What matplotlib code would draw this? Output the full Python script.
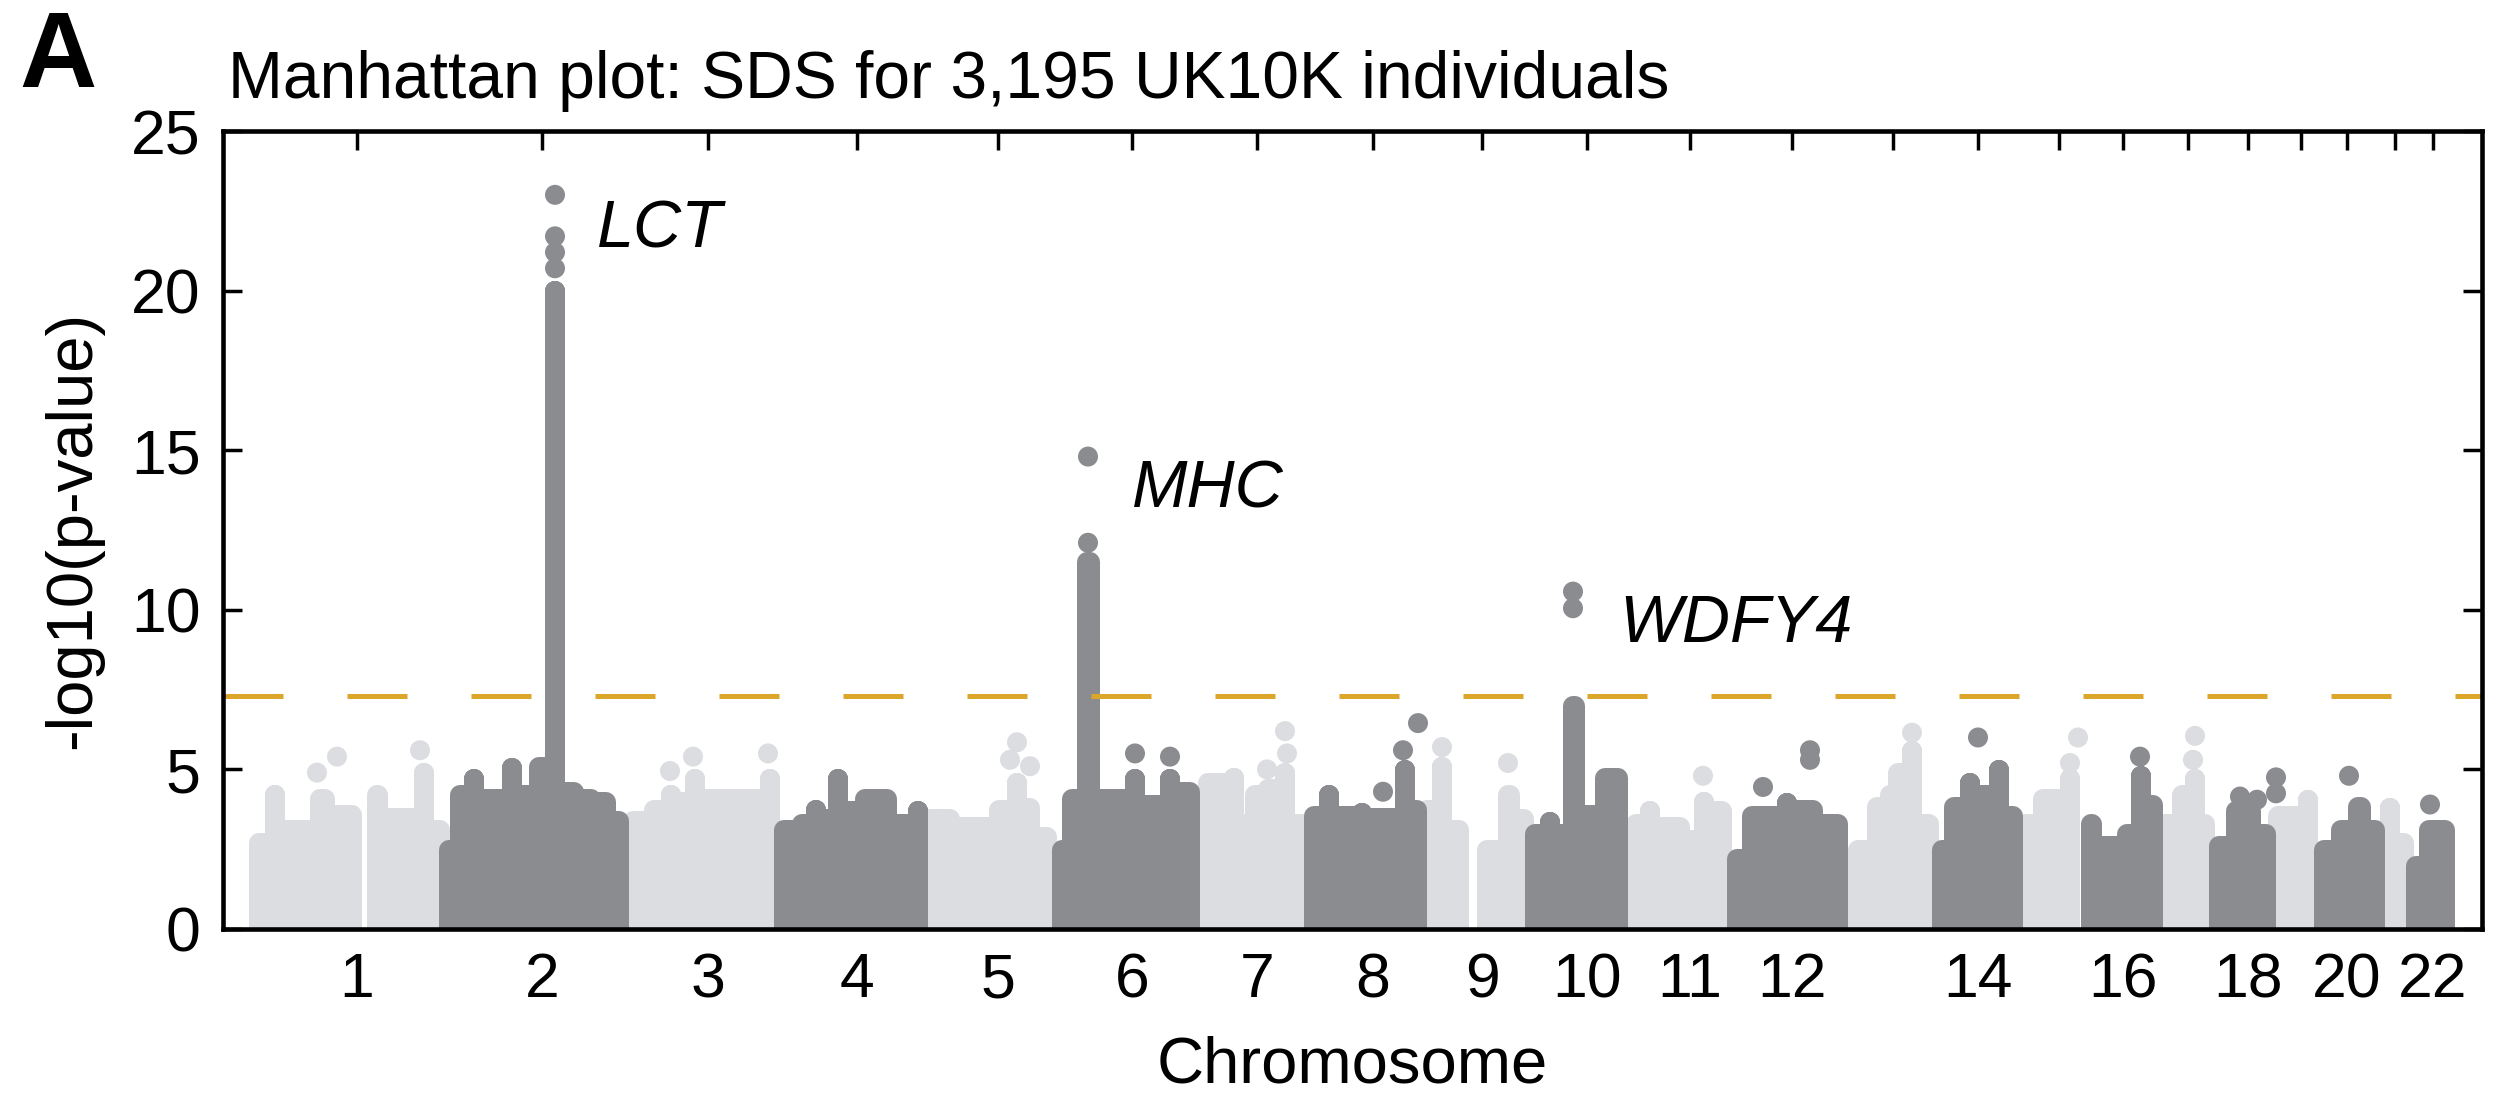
import numpy as np
import matplotlib.pyplot as plt

plt.rcParams['font.family'] = ['Liberation Sans', 'DejaVu Sans']

# x axis: cumulative genome position (arbitrary units), one tick per chromosome
tick_pos = [134, 319, 485, 634, 775, 909, 1034, 1150, 1259, 1364, 1467,
            1569, 1670, 1755, 1836, 1900, 1965, 2025, 2078, 2124, 2172, 2210]
tick_labels = ['1', '2', '3', '4', '5', '6', '7', '8', '9', '10', '11',
               '12', '', '14', '', '16', '', '18', '', '20', '', '22']
chrom_end = [225, 402, 551, 700, 834, 977, 1085, 1197, 1304, 1405, 1509,
             1625, 1714, 1795, 1857, 1933, 1987, 2047, 2092, 2155, 2189, 2232]

# upper envelope of each chromosome's point cloud: block start positions and
# the -log10(p) reached inside each block (0 = no SNPs, e.g. centromere)
env_start = [
    [29, 42, 62, 87, 112, 139, 144, 165, 192, 209],
    [219, 232, 242, 259, 279, 299, 309, 322, 342, 359, 377, 389],
    [400, 422, 439, 457, 467, 477, 542],
    [551, 570, 588, 597, 605, 624, 632, 674, 690],
    [697, 737, 767, 785, 802, 812],
    [834, 844, 854, 877, 904, 920, 942, 952],
    [975, 1004, 1017, 1027, 1037, 1052, 1072],
    [1085, 1097, 1114, 1130, 1147, 1173, 1190],
    [1197, 1210, 1227, 1244, 1254, 1275, 1297],
    [1304, 1320, 1334, 1340, 1362, 1372],
    [1405, 1420, 1434, 1467, 1474, 1487],
    [1509, 1519, 1557, 1570, 1600],
    [1625, 1644, 1664, 1670, 1680, 1697],
    [1714, 1724, 1737, 1757, 1767, 1784],
    [1795, 1810, 1837],
    [1858, 1879, 1899, 1909, 1926],
    [1927, 1950, 1967, 1977],
    [1988, 2003, 2038],
    [2045, 2077],
    [2092, 2110, 2125, 2148],
    [2155, 2162, 2172],
    [2189, 2196],
]
env_height = [
    [3.0, 4.5, 3.4, 4.4, 3.9, 0, 4.5, 3.8, 5.2, 3.4],
    [2.8, 4.5, 5.0, 4.4, 5.35, 4.5, 5.4, 20.3, 4.6, 4.4, 4.3, 3.7],
    [3.7, 4.05, 4.5, 4.3, 5.0, 4.4, 5.0],
    [3.4, 3.6, 4.05, 3.75, 5.0, 4.0, 4.4, 3.6, 4.0],
    [3.75, 3.5, 4.05, 4.9, 4.1, 3.2],
    [2.8, 4.4, 11.8, 4.4, 5.0, 4.2, 5.0, 4.6],
    [4.9, 5.05, 3.6, 4.5, 4.7, 5.2, 3.6],
    [3.85, 4.5, 3.85, 3.95, 3.8, 5.3, 4.05],
    [4.05, 5.4, 3.4, 0, 2.8, 4.5, 3.75],
    [3.3, 3.65, 3.3, 7.3, 3.9, 5.05],
    [3.6, 4.0, 3.5, 3.1, 4.3, 4.0],
    [2.5, 3.85, 4.25, 4.05, 3.6],
    [2.8, 4.15, 4.5, 5.2, 5.9, 3.6],
    [2.8, 4.15, 4.9, 4.5, 5.3, 3.85],
    [3.6, 4.4, 5.0],
    [3.6, 2.9, 3.3, 5.1, 4.2],
    [3.6, 4.5, 5.0, 3.6],
    [2.9, 4.0, 3.3],
    [3.85, 4.35],
    [2.8, 3.4, 4.15, 3.4],
    [3.4, 4.1, 3.0],
    [2.3, 3.4],
]

# single SNPs standing clear of the clouds (chromosome, position, -log10 p)
dot_chrom = [1, 1, 1, 2, 2, 2, 2, 3, 3, 3, 5, 5, 5, 6, 6, 6, 6, 7, 7, 7,
             8, 8, 8, 9, 9, 10, 10, 11, 12, 12, 12, 13, 14, 15, 15, 16, 17, 17,
             18, 18, 18, 18, 20, 22]
dot_x = [94, 114, 197, 332, 332, 332, 332, 447, 470, 545, 794, 787, 807,
         865, 865, 912, 947, 1044, 1064, 1062, 1160, 1180, 1195, 1219, 1285,
         1350, 1350, 1480, 1540, 1587, 1587, 1689, 1755, 1847, 1855, 1917,
         1972, 1970, 2017, 2034, 2053, 2053, 2126, 2207]
dot_y = [4.9, 5.4, 5.6, 23.0, 21.7, 21.2, 20.7, 4.95, 5.4, 5.5, 5.85, 5.3,
         5.1, 14.8, 12.1, 5.5, 5.4, 5.0, 5.5, 6.2, 4.3, 5.6, 6.45, 5.7, 5.2,
         10.57, 10.05, 4.8, 4.45, 5.6, 5.3, 6.15, 6.0, 5.2, 6.0, 5.4, 6.05,
         5.3, 4.15, 4.05, 4.75, 4.25, 4.8, 3.9]

genes = ['LCT', 'MHC', 'WDFY4']
gene_x = [374, 909, 1396]
gene_y = [21.35, 13.2, 9.0]

threshold = 7.3  # genome-wide significance, p = 5e-8

light = '#dcdde0'
dark = '#8b8c90'
gold = '#dca62a'

W, H = 2501, 1099
fig = plt.figure(figsize=(W / 100, H / 100), dpi=100)
ax = fig.add_axes([223 / W, 1 - 929 / H, 2259 / W, 798 / H])
ax.set_xlim(0, 2259)
ax.set_ylim(0, 25)

# dot radius (10 px) in data units, used to round off the cloud tops
dot_px = 20
rx = dot_px / 2 * 2259 / 2259
ry = dot_px / 2 * 25 / 798
dot_pt = dot_px * 72 / 100


def cloud_polygons(starts, heights, end):
    # split at empty blocks, shrink every block by the dot radius
    edges = list(starts) + [end]
    groups, cur = [], []
    for i, h in enumerate(heights):
        a, b = edges[i], edges[i + 1]
        if h <= 0:
            if cur:
                groups.append(cur)
            cur = []
            continue
        lo, hi = a + rx, b - rx
        if hi < lo:
            lo = hi = (a + b) / 2
        cur.append((lo, hi, h - ry))
    if cur:
        groups.append(cur)

    out = []
    for blocks in groups:
        xs, ys = [blocks[0][0]], [-1]
        for j, (lo, hi, top) in enumerate(blocks):
            if j > 0:
                plo, phi, ptop = blocks[j - 1]
                # step with vertical sides kept at the taller block
                if top > ptop:
                    xs.append(lo)
                    ys.append(ptop)
                else:
                    xs.append(phi)
                    ys.append(top)
            xs += [lo, hi]
            ys += [top, top]
        xs.append(blocks[-1][1])
        ys.append(-1)
        out.append((xs, ys))
    return out


# light (odd) chromosomes first, dark (even) ones drawn over them
for parity, color, z in [(1, light, 2), (0, dark, 3)]:
    for c in range(22):
        if (c + 1) % 2 != parity:
            continue
        for px, py in cloud_polygons(env_start[c], env_height[c], chrom_end[c]):
            ax.fill(px, py, fc=color, ec=color, lw=dot_pt, joinstyle='round', zorder=z)
        sel = [i for i, ch in enumerate(dot_chrom) if ch == c + 1]
        ax.scatter([dot_x[i] for i in sel], [dot_y[i] for i in sel], s=dot_pt ** 2,
                   color=color, edgecolors='none', zorder=z)

ax.axhline(threshold, color=gold, lw=3.6, ls=(0, (12, 12.8)), zorder=5)

for g, gx, gy in zip(genes, gene_x, gene_y):
    ax.text(gx, gy, g, fontsize=48, style='italic', ha='left', va='baseline', zorder=6)

ax.set_xticks(tick_pos)
ax.set_xticklabels(tick_labels)
ax.set_yticks(np.arange(0, 26, 5))
ax.tick_params(direction='in', length=14, width=2.5, top=True, right=True,
               labelsize=45, pad=16)
for sp in ax.spines.values():
    sp.set_linewidth(3.3)
    sp.set_zorder(7)

ax.set_xlabel('Chromosome', fontsize=47, labelpad=18)
ax.set_ylabel('-log10(p-value)', fontsize=47, labelpad=20)

fig.text(228 / W, 1 - 98 / H, 'Manhattan plot: SDS for 3,195 UK10K individuals',
         fontsize=47.5, ha='left', va='baseline')
fig.text(19 / W, 1 - 87 / H, 'A', fontsize=77, fontweight='bold', ha='left',
         va='baseline')

fig.savefig('out.png', dpi=100)
